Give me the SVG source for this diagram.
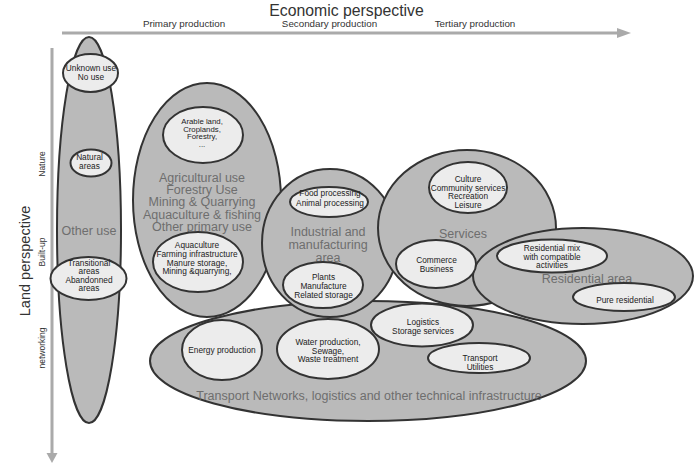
<svg xmlns="http://www.w3.org/2000/svg" width="694" height="467" viewBox="0 0 694 467">
<style>
text{font-family:"Liberation Sans",Arial,sans-serif;text-anchor:middle}
.o{fill:#bababa;stroke:#333;stroke-width:2}
.i{fill:#ececec;stroke:#333;stroke-width:2}
.t{font-size:8.3px;fill:#222}
.s{font-size:7.8px;fill:#222}
.m{font-size:12.5px;fill:#6e6e6e}
.ax{fill:#333}
.arr{stroke:#aaa;stroke-width:3;fill:none}
</style>
<g id="axes">
<line class="arr" x1="62" y1="33" x2="618" y2="33"/>
<polygon points="617,28 617,38 631,33" fill="#aaa"/>
<line class="arr" x1="52" y1="48" x2="52" y2="454"/>
<polygon points="46.5,453 57.5,453 52,463" fill="#aaa"/>
<text class="ax" x="346.5" y="15.5" font-size="15.8">Economic perspective</text>
<text class="ax" x="184" y="27" font-size="9.8">Primary production</text>
<text class="ax" x="329.5" y="27" font-size="9.8">Secondary production</text>
<text class="ax" x="475" y="27" font-size="9.8">Tertiary production</text>
<text class="ax" font-size="14.5" transform="translate(30,261) rotate(-90)">Land perspective</text>
<text class="ax" font-size="8.5" transform="translate(45,164) rotate(-90)">Nature</text>
<text class="ax" font-size="8.5" transform="translate(45,252) rotate(-90)">Built-up</text>
<text class="ax" font-size="8.5" transform="translate(45,348) rotate(-90)">networking</text>
</g>
<g id="connectors"></g>
<g id="other-use">
<ellipse class="o" cx="89" cy="230" rx="32" ry="193"/>
<text class="m" x="89" y="234.5">Other use</text>
</g>
<g id="agricultural">
<ellipse class="o" cx="207" cy="200" rx="74" ry="117"/>
<text class="m" x="202" y="181.5">Agricultural use</text>
<text class="m" x="202" y="193.9">Forestry Use</text>
<text class="m" x="202" y="206.3">Mining &amp; Quarrying</text>
<text class="m" x="202" y="218.7">Aquaculture &amp; fishing</text>
<text class="m" x="202" y="231.1">Other primary use</text>
</g>
<g id="transport">
<ellipse class="o" cx="368" cy="361" rx="218" ry="60"/>
<text class="m" x="369" y="399.5">Transport Networks, logistics and other technical infrastructure</text>
</g>
<g id="industrial">
<ellipse class="o" cx="330" cy="243" rx="68" ry="74"/>
<text class="m" x="328" y="235.5">Industrial and</text>
<text class="m" x="328" y="248.5">manufacturing</text>
<text class="m" x="328" y="261.5">area</text>
</g>
<g id="services">
<ellipse class="o" cx="467" cy="228" rx="89" ry="78"/>
<text class="m" x="463" y="237.5">Services</text>
</g>
<g id="residential">
<ellipse class="o" cx="583" cy="276" rx="110" ry="48"/>
<text class="m" x="587" y="282.5">Residential area</text>
</g>
<g id="unknown-use">
<ellipse class="i" cx="90.5" cy="73" rx="27.5" ry="19"/>
<text class="t" x="91" y="71">Unknown use</text>
<text class="t" x="91" y="80">No use</text>
</g>
<g id="natural-areas">
<ellipse class="i" cx="91" cy="163" rx="20.5" ry="13.5"/>
<text class="t" x="89.5" y="160">Natural</text>
<text class="t" x="89.5" y="169">areas</text>
</g>
<g id="transitional">
<ellipse class="i" cx="88.5" cy="278.5" rx="38" ry="21.5"/>
<text class="t" x="89" y="266">Transitional</text>
<text class="t" x="89" y="274.3">areas</text>
<text class="t" x="89" y="282.6">Abandonned</text>
<text class="t" x="89" y="291">areas</text>
</g>
<g id="arable">
<ellipse class="i" cx="203" cy="135" rx="40" ry="28"/>
<text class="s" x="202" y="124">Arable land,</text>
<text class="s" x="202" y="131.7">Croplands,</text>
<text class="s" x="202" y="139.4">Forestry,</text>
<text class="s" x="202" y="147">...</text>
</g>
<g id="aquaculture">
<ellipse class="i" cx="198" cy="262" rx="45" ry="30"/>
<text class="t" x="197" y="248">Aquaculture</text>
<text class="t" x="197" y="256.8">Farming infrastructure</text>
<text class="t" x="197" y="265.6">Manure storage,</text>
<text class="t" x="197" y="274.4">Mining &amp;quarrying,</text>
</g>
<g id="food-processing">
<ellipse class="i" cx="329" cy="202" rx="39" ry="15"/>
<text class="t" x="330" y="196">Food processing</text>
<text class="t" x="330" y="206">Animal processing</text>
</g>
<g id="plants">
<ellipse class="i" cx="323" cy="285" rx="40" ry="23"/>
<text class="t" x="323.5" y="280">Plants</text>
<text class="t" x="323.5" y="289">Manufacture</text>
<text class="t" x="323.5" y="298">Related storage</text>
</g>
<g id="culture">
<ellipse class="i" cx="468" cy="187.5" rx="39" ry="25.5"/>
<text class="t" x="468" y="182">Culture</text>
<text class="t" x="468" y="190.5">Community services</text>
<text class="t" x="468" y="199">Recreation</text>
<text class="t" x="468" y="207.5">Leisure</text>
</g>
<g id="commerce">
<ellipse class="i" cx="436" cy="264" rx="40" ry="24"/>
<text class="t" x="436.5" y="263">Commerce</text>
<text class="t" x="436.5" y="272">Business</text>
</g>
<g id="residential-mix">
<ellipse class="i" cx="552" cy="256" rx="55" ry="16.5"/>
<text class="t" x="552" y="251">Residential mix</text>
<text class="t" x="552" y="259.5">with compatible</text>
<text class="t" x="552" y="268">activities</text>
</g>
<g id="pure-residential">
<ellipse class="i" cx="624" cy="297" rx="51" ry="14"/>
<text class="t" x="625" y="303">Pure residential</text>
</g>
<g id="energy">
<ellipse class="i" cx="222" cy="350" rx="40" ry="30"/>
<text class="t" x="222" y="353">Energy production</text>
</g>
<g id="water">
<ellipse class="i" cx="328" cy="349" rx="51" ry="30"/>
<text class="t" x="328" y="345">Water production,</text>
<text class="t" x="328" y="353.5">Sewage,</text>
<text class="t" x="328" y="362">Waste treatment</text>
</g>
<g id="logistics">
<ellipse class="i" cx="422" cy="325" rx="51" ry="21.5"/>
<text class="t" x="423" y="325">Logistics</text>
<text class="t" x="423" y="334">Storage services</text>
</g>
<g id="transport-utilities">
<ellipse class="i" cx="479" cy="358" rx="51" ry="15"/>
<text class="t" x="480" y="361">Transport</text>
<text class="t" x="480" y="370">Utilities</text>
</g>
</svg>
